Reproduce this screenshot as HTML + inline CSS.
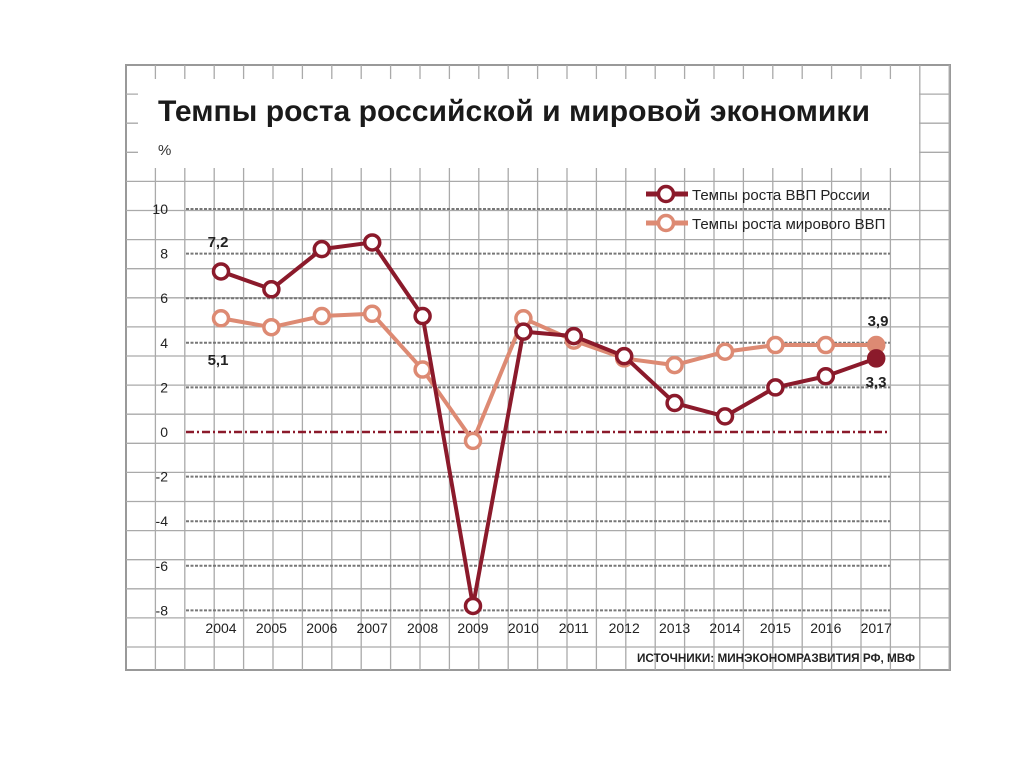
<!DOCTYPE html>
<html><head><meta charset="utf-8"><style>
body{margin:0;background:#fff;width:1024px;height:767px;overflow:hidden}
svg text{font-family:"Liberation Sans",sans-serif}
</style></head><body>
<svg id="c" width="1024" height="767" xmlns="http://www.w3.org/2000/svg">
<g id="grid"></g>
<rect x="138" y="79" width="781" height="89" fill="#fff"/>
<text x="158" y="121" font-size="30" font-weight="bold" fill="#1a1a1a" textLength="712" lengthAdjust="spacingAndGlyphs">Темпы роста российской и мировой экономики</text>
<text x="158" y="155" font-size="15" fill="#333">%</text>
<g id="plot"></g>
<text x="915" y="662" font-size="12" font-weight="bold" fill="#222" text-anchor="end" textLength="278" lengthAdjust="spacingAndGlyphs">ИСТОЧНИКИ: МИНЭКОНОМРАЗВИТИЯ РФ, МВФ</text>
</svg>
<script>
const years=[2004,2005,2006,2007,2008,2009,2010,2011,2012,2013,2014,2015,2016,2017];
const russia=[7.2,6.4,8.2,8.5,5.2,-7.8,4.5,4.3,3.4,1.3,0.7,2.0,2.5,3.3];
const world=[5.1,4.7,5.2,5.3,2.8,-0.4,5.1,4.1,3.3,3.0,3.6,3.9,3.9,3.9];
const yTicks=[10,8,6,4,2,0,-2,-4,-6,-8];
const NS="http://www.w3.org/2000/svg";
const x=i=>221+i*50.4;
const y=v=>432-v*22.3;
function mk(t,a,p){const e=document.createElementNS(NS,t);for(const k in a)e.setAttribute(k,a[k]);p.appendChild(e);return e;}
const grid=document.getElementById('grid'),plot=document.getElementById('plot');
mk('rect',{x:126,y:65,width:824,height:605,fill:'#fff',stroke:'#999','stroke-width':2},grid);
for(let gx=126+29.4;gx<950;gx+=29.4){const l=mk('line',{x1:gx,y1:65,x2:gx,y2:670,stroke:'#aaa','stroke-width':1.3},grid);}
for(let gy=65+29.1;gy<670;gy+=29.1){const l=mk('line',{x1:126,y1:gy,x2:950,y2:gy,stroke:'#aaa','stroke-width':1.3},grid);}
yTicks.forEach(v=>{
 const zero=v===0;
 const l=mk('line',{x1:186,y1:y(v),x2:890,y2:y(v),stroke:zero?'#8b1a2b':'#777','stroke-width':zero?2.5:2,'stroke-dasharray':zero?'8,3,2,3':'3,1.5'},plot);
 
 
 const t=mk('text',{x:168,y:y(v)+5,'font-size':14,'text-anchor':'end',fill:'#222'},plot);t.textContent=v;
 
 
});
years.forEach((yr,i)=>{const t=mk('text',{x:x(i),y:633,'font-size':14,'text-anchor':'middle',fill:'#222'},plot);t.textContent=yr;
 
 });
function series(data,col,name){
 const pl=mk('polyline',{points:data.map((v,i)=>x(i)+','+y(v)).join(' '),fill:'none',stroke:col,'stroke-width':4,'stroke-linejoin':'round'},plot);
 
 
 data.forEach((v,i)=>{const last=i===data.length-1;const c=mk('circle',{cx:x(i),cy:y(v),r:7.5,fill:last?col:'#fff',stroke:col,'stroke-width':3.5},plot);
 
 });
}
series(world,'#dd8a73','world');
series(russia,'#8b1a2b','russia');
function lbl(s,xx,yy){const t=mk('text',{x:xx,y:yy,'font-size':15,'font-weight':'bold','text-anchor':'middle',fill:'#222'},plot);t.textContent=s;
 
 }
lbl('7,2',218,247);lbl('5,1',218,365);lbl('3,9',878,326);lbl('3,3',876,387);
[['#8b1a2b','Темпы роста ВВП России',194],['#dd8a73','Темпы роста мирового ВВП',223]].forEach(([c,s,ly])=>{
 const g=mk('g',{},plot);
 
 
 mk('line',{x1:646,y1:ly,x2:688,y2:ly,stroke:c,'stroke-width':5},g);
 mk('circle',{cx:666,cy:ly,r:7.5,fill:'#fff',stroke:c,'stroke-width':3.5},g);
 const t=mk('text',{x:692,y:ly+6,'font-size':15,fill:'#222'},g);t.textContent=s;
});
</script>
</body></html>
